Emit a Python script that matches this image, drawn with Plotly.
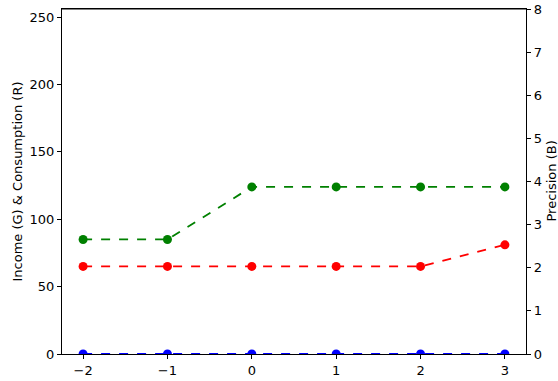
import plotly.graph_objects as go

x = [-2, -1, 0, 1, 2, 3]
income = [85, 85, 124, 124, 124, 124]
consumption = [65, 65, 65, 65, 65, 81]
precision = [0, 0, 0, 0, 0, 0]

left_ticks = [0, 50, 100, 150, 200, 250]
right_ticks = [0, 1, 2, 3, 4, 5, 6, 7, 8]
x_ticks = [-2, -1, 0, 1, 2, 3]
x_labels = ["\u22122", "\u22121", "0", "1", "2", "3"]

font = dict(family="DejaVu Sans", size=13, color="black")

fig = go.Figure()
fig.add_trace(go.Scatter(x=x, y=income, mode="lines+markers",
                         line=dict(color="green", dash="dash", width=1.8),
                         marker=dict(color="green", size=9), yaxis="y"))
fig.add_trace(go.Scatter(x=x, y=consumption, mode="lines+markers",
                         line=dict(color="red", dash="dash", width=1.8),
                         marker=dict(color="red", size=9), yaxis="y"))
fig.add_trace(go.Scatter(x=x, y=precision, mode="lines+markers",
                         line=dict(color="blue", dash="dash", width=1.8),
                         marker=dict(color="blue", size=9), yaxis="y2",
                         cliponaxis=True))

axis_common = dict(showgrid=False, zeroline=False, showline=True, linecolor="black",
                   linewidth=1.2, ticks="outside", ticklen=4, tickcolor="black",
                   tickfont=font, automargin=False, layer="above traces")

fig.update_layout(
    width=558, height=381,
    margin=dict(l=62, r=32, t=9, b=27),
    paper_bgcolor="white", plot_bgcolor="white",
    showlegend=False,
    font=font,
    xaxis=dict(range=[-2.25, 3.25], tickvals=x_ticks, ticktext=x_labels,
               mirror=True, **axis_common),
    yaxis=dict(range=[0, 256], tickvals=left_ticks, **axis_common),
    yaxis2=dict(range=[0, 8], tickvals=right_ticks, overlaying="y", side="right",
                **axis_common),
    annotations=[
        dict(text="Income (G) & Consumption (R)", xref="paper", yref="paper",
             x=-45 / 464, y=0.5, xanchor="center", yanchor="middle", textangle=-90,
             showarrow=False, font=font),
        dict(text="Precision (B)", xref="paper", yref="paper",
             x=1.0 + 25 / 464, y=0.5, xanchor="center", yanchor="middle", textangle=-90,
             showarrow=False, font=font),
    ],
)
fig.add_shape(type="line", xref="paper", yref="paper", x0=0, x1=1, y0=1, y1=1,
              line=dict(color="black", width=1.2))

fig.write_html("out.html", config={"displayModeBar": False},
               post_script="document.body.style.margin='0';document.body.style.overflow='hidden';")
